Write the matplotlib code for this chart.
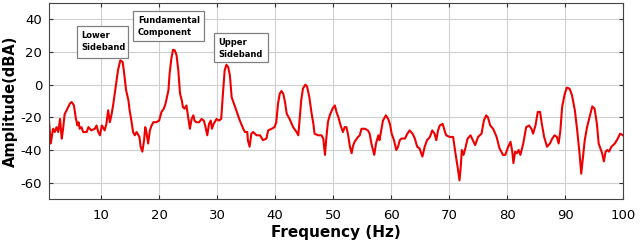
import matplotlib
matplotlib.use("Agg")
from matplotlib import pyplot as plt
from matplotlib.patches import Rectangle

# spectrum
freq = [1.0, 1.3, 1.7, 2.0, 2.3, 2.6, 2.9, 3.2, 3.4, 3.7, 4.0, 4.6, 4.9, 5.3, 5.6, 5.9,
        6.1, 6.3, 6.6, 6.9, 7.5, 7.8, 8.3, 8.9, 9.2, 9.5, 9.8, 10.1, 10.3, 10.6, 10.9,
        11.2, 11.5, 11.8, 12.1, 12.5, 12.9, 13.3, 13.7, 13.9, 14.3, 14.7, 14.9, 15.2,
        15.5, 15.8, 16.1, 16.6, 16.8, 17.1, 17.4, 17.6, 17.8, 18.1, 18.4, 18.7, 19.0,
        19.5, 20.0, 20.4, 20.8, 21.1, 21.6, 21.8, 22.1, 22.4, 22.7, 23.0, 23.3, 23.6,
        23.9, 24.1, 24.4, 24.7, 25.0, 25.3, 25.6, 25.9, 26.1, 26.4, 26.9, 27.3, 27.7,
        28.0, 28.3, 28.6, 28.9, 29.1, 29.4, 29.9, 30.3, 30.7, 31.0, 31.3, 31.6, 31.9,
        32.2, 32.5, 32.8, 33.3, 33.9, 34.5, 34.8, 35.2, 35.3, 35.6, 35.9, 36.2, 36.8,
        37.4, 37.9, 38.5, 38.8, 39.4, 39.9, 40.2, 40.5, 40.8, 41.1, 41.4, 41.7, 42.0,
        42.5, 43.1, 43.7, 44.0, 44.3, 44.5, 44.8, 45.2, 45.5, 45.9, 46.3, 46.6, 46.8,
        47.4, 47.7, 48.0, 48.3, 48.6, 48.8, 49.1, 49.4, 49.9, 50.3, 50.6, 50.9, 51.3,
        51.7, 52.0, 52.3, 52.6, 52.9, 53.2, 53.4, 53.7, 54.3, 54.6, 54.9, 55.5, 56.0,
        56.3, 56.6, 57.1, 57.4, 57.8, 58.0, 58.3, 58.6, 59.1, 59.5, 59.8, 60.1, 60.5,
        60.9, 61.2, 61.5, 61.8, 62.4, 62.8, 63.2, 63.7, 64.1, 64.5, 64.9, 65.4, 65.8,
        66.2, 66.7, 67.1, 67.5, 67.8, 68.1, 68.4, 68.9, 69.3, 69.5, 70.1, 70.7, 71.1,
        71.5, 71.8, 72.0, 72.2, 72.5, 72.8, 73.2, 73.7, 74.1, 74.5, 75.0, 75.6, 76.0,
        76.4, 76.7, 77.1, 77.6, 78.2, 78.7, 79.3, 79.7, 80.2, 80.6, 80.9, 81.1, 81.4,
        81.7, 82.0, 82.3, 82.8, 83.3, 83.8, 84.2, 84.5, 84.9, 85.3, 85.7, 86.0, 86.4,
        86.9, 87.4, 87.8, 88.2, 88.6, 88.9, 89.2, 89.5, 89.9, 90.3, 90.8, 91.2, 91.7,
        92.1, 92.5, 92.8, 93.1, 93.4, 93.8, 94.3, 94.7, 95.1, 95.5, 95.8, 96.1, 96.4,
        96.7, 97.0, 97.3, 97.6, 98.0, 98.6, 99.1, 99.5, 100.0]
amp = [-22, -36, -27, -29, -26, -29, -21, -33, -28, -18, -16, -11.6, -10.6, -12.7, -20, -25,
       -23, -27, -26, -29, -29, -26, -28, -27, -25, -29, -31, -25, -26, -28, -24,
       -15.7, -23, -18, -11.6, -1.4, 8.8, 14.9, 13.9, 8.8, -3.5, -9.6, -15.7, -21.8,
       -29, -31, -29, -32, -38, -41, -34, -26, -29, -36, -28, -25, -23,
       -23, -22, -16.7, -14.7, -11.6, -3.5, 6.7, 15.9, 21.4, 21, 18, 8.8, -5.5,
       -9.6, -13.7, -14.7, -12.7, -20, -27, -21, -18.8, -22, -23, -23, -21, -22,
       -26, -31, -24, -22, -27, -24, -21, -22, -21, -5.5, 8.8, 12.2, 10.8,
       5.7, -7.6, -10.6, -15.7, -21.8, -27, -29, -29, -34, -38, -30, -29, -31,
       -31, -34, -33, -28, -27, -26, -23, -11.6, -5.5, -3.9, -5.5, -10.6, -17.8,
       -21, -26, -29, -31, -17.8, -9.6, -2.4, 0, -1, -7.6, -17.8, -24, -30,
       -31, -31, -31, -33, -43, -34, -23, -19, -14.7, -12.7, -17, -19.8, -25,
       -29, -26, -26, -31, -38, -42, -38, -35, -32, -31, -27, -27, -28,
       -30, -36, -43, -36, -31, -34, -28, -22, -18.8, -21, -24, -30, -34,
       -40, -38, -34, -33, -33, -30, -28, -30, -33, -38, -39, -44, -38,
       -34, -32, -28, -30, -34, -28, -25, -24, -29, -31, -32, -32, -42,
       -51, -58.6, -51, -40, -43, -39, -33, -31, -34, -37, -32, -30, -22,
       -18.8, -20, -25, -27, -32, -39, -43, -43, -38, -35, -41, -48, -41,
       -42, -40, -43, -36, -26, -25, -27, -30, -25, -16.7, -16.7, -24, -32,
       -38, -36, -33, -31, -32, -36, -28, -13.7, -6.5, -1.8, -2.5, -6.5, -15.7,
       -28, -42, -54.5, -44, -34, -26, -18.8, -13.3, -14.7, -24, -36, -39, -42,
       -47, -41, -40, -41, -38, -36, -33, -30, -31]

xticks = [10, 20, 30, 40, 50, 60, 70, 80, 90, 100]
yticks = [-60, -40, -20, 0, 20, 40]

# annotation boxes: text, box (left, top, right, bottom) in px, text (left, top) in px
notes = [("Lower\nSideband", (77, 26, 128, 58), (81, 31)),
         ("Fundamental\nComponent", (133, 11, 204, 41), (138, 16)),
         ("Upper\nSideband", (214, 33, 268, 62), (218, 38))]

W, H = 640, 242
plt.rcParams["font.family"] = ["DejaVu Sans"]

fig = plt.figure(figsize=(W / 100, H / 100), dpi=100)
ax = fig.add_axes([49 / W, 1 - 199 / H, (623 - 49) / W, (199 - 3) / H])

ax.plot(freq, amp, color="#ee0000", linewidth=1.5)

ax.set_xlim(1, 100)
ax.set_ylim(-70, 50)
ax.set_xticks(xticks)
ax.set_yticks(yticks)
ax.set_xticklabels([str(t) for t in xticks])
ax.set_yticklabels([str(t) for t in yticks])
ax.tick_params(direction="in", top=True, right=True, labelsize=9.5, length=3,
               color="#333333")
ax.tick_params(axis="x", pad=7.5)
ax.tick_params(axis="y", pad=5)
ax.grid(True, color="#d0d0d0", linewidth=0.8)
for s in ax.spines.values():
    s.set_color("#444444")
    s.set_linewidth(0.8)

ax.set_xlabel("Frequency (Hz)", fontsize=11, fontweight="bold", labelpad=2)
ax.set_ylabel("Amplitude(dBA)", fontsize=10.5, fontweight="bold")
ax.yaxis.set_label_coords(-0.054, 0.5)

for txt, (l, t, r, b), (tx, ty) in notes:
    fig.patches.append(Rectangle((l / W, 1 - b / H), (r - l) / W, (b - t) / H,
                                 transform=fig.transFigure, facecolor="white",
                                 edgecolor="#808080", linewidth=0.9))
    fig.text(tx / W, 1 - ty / H, txt, fontsize=6, fontweight="bold",
             ha="left", va="top", linespacing=1.4)

fig.savefig("out.png", dpi=100)
